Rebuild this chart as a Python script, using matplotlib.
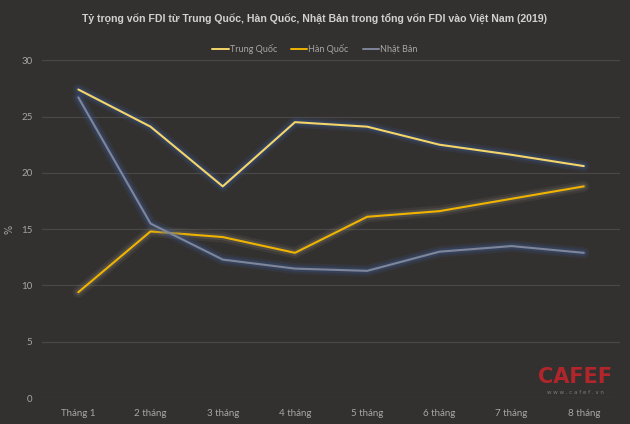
import matplotlib.pyplot as plt
import matplotlib.patheffects as pe

# Data
months = ["Tháng 1", "2 tháng", "3 tháng", "4 tháng", "5 tháng", "6 tháng", "7 tháng", "8 tháng"]
trung_quoc = [27.4, 24.1, 18.8, 24.5, 24.1, 22.5, 21.6, 20.6]
han_quoc = [9.4, 14.8, 14.3, 12.9, 16.1, 16.6, 17.7, 18.8]
nhat_ban = [26.7, 15.5, 12.3, 11.5, 11.3, 13.0, 13.5, 12.9]

bg = "#333130"
text_col = "#a6a6a6"

fig = plt.figure(figsize=(6.3, 4.24), dpi=100, facecolor=bg)
ax = fig.add_axes([0.067, 0.061, 0.917, 0.797], facecolor=bg)

x = list(range(len(months)))
series = [
    (trung_quoc, "Trung Quốc", "#f4d56a", "#3a5a96"),
    (han_quoc, "Hàn Quốc", "#f0b400", "#7a7466"),
    (nhat_ban, "Nhật Bản", "#80869a", "#3a5a96"),
]

for vals, name, col, glow in series:
    ax.plot(x, vals, color=col, lw=1.5, label=name, solid_capstyle="round",
            path_effects=[pe.Stroke(linewidth=8, foreground=glow, alpha=0.15),
                          pe.Stroke(linewidth=4.5, foreground=glow, alpha=0.3),
                          pe.Normal()])

ax.set_xlim(-0.5, 7.5)
ax.set_ylim(0, 30)
ax.set_yticks([0, 5, 10, 15, 20, 25, 30])
ax.set_xticks(x)
ax.set_xticklabels(months)
ax.grid(axis="y", color="#4a4847", lw=0.9)
ax.set_axisbelow(True)
for s in ax.spines.values():
    s.set_visible(False)
ax.tick_params(length=0, colors=text_col, labelsize=7)
for lbl in ax.get_xticklabels() + ax.get_yticklabels():
    lbl.set_family(["Lato", "DejaVu Sans"])
ax.tick_params(axis="x", pad=8)
ax.tick_params(axis="y", pad=7)
ax.set_ylabel("%", color=text_col, fontsize=7, labelpad=5)

fig.text(0.5, 0.955, "Tỷ trọng vốn FDI từ Trung Quốc, Hàn Quốc, Nhật Bản trong tổng vốn FDI vào Việt Nam (2019)",
         ha="center", va="center", color="#d0d0d0", fontsize=7.6, fontweight="bold",
         family=["Liberation Sans", "DejaVu Sans"])

leg = fig.legend(loc="center", bbox_to_anchor=(0.5, 0.885), ncol=3, frameon=False,
                 fontsize=6.5, handlelength=1.8, handletextpad=0.1, columnspacing=1.6)
for t in leg.get_texts():
    t.set_color(text_col)
    t.set_family(["Lato", "DejaVu Sans"])
for h in leg.legend_handles:
    h.set_path_effects([])
    h.set_linewidth(1.4)

# watermark
fig.text(0.913, 0.11, "CAFEF", color="#c8242b", fontsize=15, fontweight="bold",
         ha="center", va="center", alpha=0.85, family=["DejaVu Sans"])
fig.text(0.913, 0.075, "w w w . c a f e f . v n", color="#7a7a7a", fontsize=4,
         ha="center", va="center")

fig.savefig("out.png", dpi=100, facecolor=bg)
